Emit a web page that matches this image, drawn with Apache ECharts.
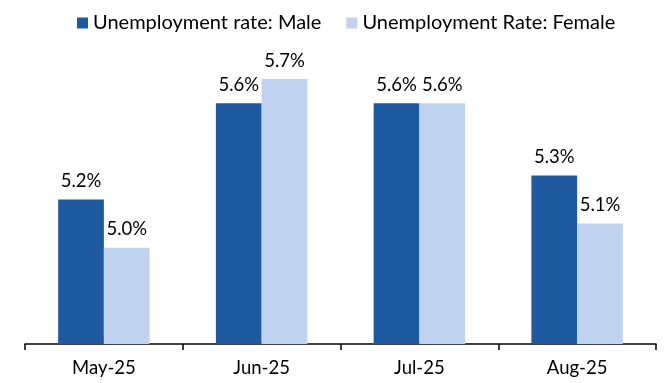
<!DOCTYPE html>
<html>
<head>
<meta charset="utf-8">
<script src="https://cdn.jsdelivr.net/npm/echarts@6/dist/echarts.min.js"></script>
<style>
  html, body { margin: 0; padding: 0; background: #fff; }
  #chart { width: 664px; height: 383px; }
</style>
</head>
<body>
<div id="chart"></div>
<script>
// Monthly unemployment rate by sex (%)
const months = ['May-25', 'Jun-25', 'Jul-25', 'Aug-25'];
const maleRate = [5.2, 5.6, 5.6, 5.3];
const femaleRate = [5.0, 5.7, 5.6, 5.1];
const seriesNames = ['Unemployment rate: Male', 'Unemployment Rate: Female'];

const FONT = 'Lato';
const chart = echarts.init(document.getElementById('chart'), null, { renderer: 'canvas' });

const labelStyle = {
  show: true,
  position: 'top',
  distance: 9,
  color: '#000',
  fontFamily: FONT,
  fontSize: 18.5,
  formatter: p => p.value.toFixed(1) + '%'
};

chart.setOption({
  animation: false,
  backgroundColor: '#fff',
  legend: {
    left: 72,
    top: 8,
    itemWidth: 11,
    itemHeight: 11,
    itemGap: 25,
    icon: 'rect',
    textStyle: { fontFamily: FONT, fontSize: 20, color: '#000' },
    data: seriesNames
  },
  grid: { left: 25, right: 8, top: 55, bottom: 39, containLabel: false },
  xAxis: {
    type: 'category',
    data: months,
    axisLine: { lineStyle: { color: '#000', width: 1.5 } },
    axisTick: { show: true, length: 6, lineStyle: { color: '#000', width: 1.5 } },
    axisLabel: { color: '#000', fontFamily: FONT, fontSize: 18.5, margin: 15 }
  },
  yAxis: {
    type: 'value',
    min: 4.6,
    max: 5.8,
    show: false,
    splitLine: { show: false }
  },
  series: [
    {
      name: seriesNames[0],
      type: 'bar',
      data: maleRate,
      barGap: '0%',
      barCategoryGap: '42%',
      itemStyle: { color: '#1f5aa0' },
      label: labelStyle
    },
    {
      name: seriesNames[1],
      type: 'bar',
      data: femaleRate,
      itemStyle: { color: '#bfd2ef' },
      label: labelStyle
    }
  ]
});
</script>
</body>
</html>
